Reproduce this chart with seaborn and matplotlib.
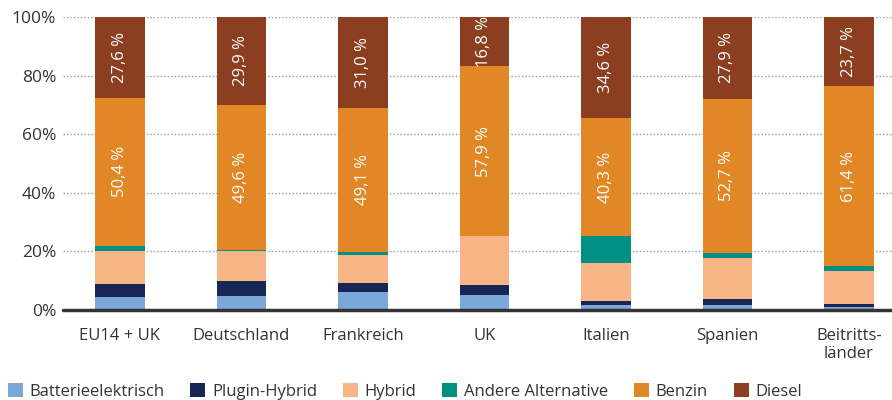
import numpy as np
import pandas as pd
import seaborn as sns
import matplotlib.pyplot as plt
from matplotlib.patches import Patch
from matplotlib.ticker import FuncFormatter

# Anteile der Antriebsarten je Region (in %)
laender = ['EU14 + UK', 'Deutschland', 'Frankreich', 'UK', 'Italien', 'Spanien', 'Beitritts-\nländer']
batterie = [4.4, 4.8, 6.1, 5.1, 1.7, 1.7, 1.0]
plugin = [4.5, 5.1, 3.1, 3.4, 1.4, 2.0, 1.0]
hybrid = [11.1, 10.1, 9.6, 16.8, 12.9, 14.0, 11.3]
andere = [2.0, 0.5, 1.1, 0.0, 9.1, 1.7, 1.6]
benzin = [50.4, 49.6, 49.1, 57.9, 40.3, 52.7, 61.4]
diesel = [27.6, 29.9, 31.0, 16.8, 34.6, 27.9, 23.7]

serien = ['Batterieelektrisch', 'Plugin-Hybrid', 'Hybrid', 'Andere Alternative', 'Benzin', 'Diesel']
farben = ['#7ba7d9', '#162756', '#f9b486', '#008f83', '#e28726', '#8b3f20']

df = pd.DataFrame({'Land': laender, 'Batterieelektrisch': batterie, 'Plugin-Hybrid': plugin,
                   'Hybrid': hybrid, 'Andere Alternative': andere, 'Benzin': benzin, 'Diesel': diesel})
kum = df[serien].cumsum(axis=1)

sns.set_theme(style='white')
plt.rcParams['font.family'] = ['Open Sans', 'DejaVu Sans']

fig = plt.figure(figsize=(8.92, 4), dpi=100)
ax = fig.add_axes([0.0706, 0.225, 0.9294, 0.7325])

# gestapelt: die höchste Summe zuerst, darüber die niedrigeren
for name, farbe in reversed(list(zip(serien, farben))):
    sns.barplot(x=df['Land'], y=kum[name], color=farbe, width=0.41, saturation=1,
                linewidth=0, ax=ax, zorder=2)

# Beschriftung in Benzin und Diesel
for i in range(len(laender)):
    for name in ['Benzin', 'Diesel']:
        wert = df.loc[i, name]
        mitte = kum.loc[i, name] - wert / 2
        ax.text(i, mitte, f'{wert:.1f} %'.replace('.', ','), rotation=90, color='white',
                ha='center', va='center', fontsize=12, zorder=4)

ax.set_xlim(-0.469, 6.354)
ax.set_ylim(0, 100)
ax.set_yticks([0, 20, 40, 60, 80, 100])
ax.yaxis.set_major_formatter(FuncFormatter(lambda v, p: f'{v:.0f}%'))
ax.yaxis.grid(True, linestyle=(0, (1, 1.5)), color='#999999', linewidth=1, zorder=0)
ax.set_axisbelow(True)
ax.axhline(0, color='#333333', linewidth=2.5, zorder=5, clip_on=False)
for s in ax.spines.values():
    s.set_visible(False)
ax.set_xlabel('')
ax.set_ylabel('')
ax.tick_params(axis='y', labelsize=12.5, colors='#333333', pad=5, length=0)
ax.tick_params(axis='x', labelsize=12, colors='#333333', pad=13, length=0)

handles = [Patch(facecolor=f, edgecolor='none', label=n) for n, f in zip(serien, farben)]
fig.legend(handles=handles, loc='lower left', bbox_to_anchor=(0.005, -0.008), ncol=6, frameon=False,
           fontsize=12, handlelength=0.9, handleheight=0.9, handletextpad=0.4,
           columnspacing=1.55, borderaxespad=0.0, borderpad=0.2, labelcolor='#333333')

fig.savefig('out.png', dpi=100)
